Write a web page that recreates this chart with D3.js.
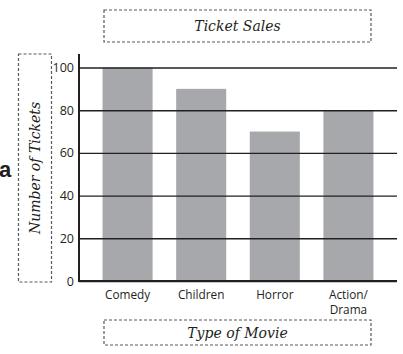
<!DOCTYPE html>
<html>
<head>
<meta charset="utf-8">
<script src="https://cdn.jsdelivr.net/npm/d3@7"></script>
<style>
  html, body { margin: 0; padding: 0; background: #fff; }
  svg { display: block; }
</style>
</head>
<body>
<div id="chart"></div>
<script>
// Ticket sales by movie type
const categories = ["Comedy", "Children", "Horror", "Action/\nDrama"];
const tickets = [100, 90, 70, 80];
const yTicks = [0, 20, 40, 60, 80, 100];

const W = 403, H = 354;
const plotLeft = 79, plotRight = 397, plotTop = 54, plotBottom = 281;

const svg = d3.select("#chart").append("svg")
  .attr("width", W).attr("height", H);

const x = d3.scaleBand()
  .domain(categories)
  .range([plotLeft, plotRight])
  .padding(0.32);

const y = d3.scaleLinear()
  .domain([0, 100])
  .range([plotBottom, 67.5]);

// Bars
svg.append("g").selectAll("rect")
  .data(tickets)
  .join("rect")
  .attr("x", (d, i) => x(categories[i]))
  .attr("y", d => y(d))
  .attr("width", x.bandwidth())
  .attr("height", d => y(0) - y(d))
  .attr("fill", "#a7a8ab");

// Horizontal grid lines drawn over the bars
const yAxis = d3.axisLeft(y)
  .tickValues(yTicks)
  .tickSize(-(plotRight - plotLeft))
  .tickPadding(5)
  .tickFormat(d3.format("d"));

const gy = svg.append("g")
  .attr("transform", `translate(${plotLeft},0)`)
  .call(yAxis);
gy.select(".domain").remove();
gy.selectAll(".tick line")
  .attr("stroke", "#231f20")
  .attr("stroke-width", 1.4);
gy.selectAll(".tick text")
  .attr("font-family", "'Open Sans', 'Liberation Sans', sans-serif")
  .attr("font-size", 12.5)
  .attr("fill", "#231f20");

// Vertical axis line
svg.append("line")
  .attr("x1", plotLeft).attr("x2", plotLeft)
  .attr("y1", plotTop).attr("y2", plotBottom + 0.7)
  .attr("stroke", "#231f20")
  .attr("stroke-width", 2);

// Baseline
svg.append("line")
  .attr("x1", plotLeft - 1).attr("x2", plotRight)
  .attr("y1", plotBottom).attr("y2", plotBottom)
  .attr("stroke", "#231f20")
  .attr("stroke-width", 2);

// Category labels (multi-line where needed)
const gx = svg.append("g");
categories.forEach(c => {
  const lines = c.split("\n");
  const t = gx.append("text")
    .attr("x", x(c) + x.bandwidth() / 2)
    .attr("y", 299)
    .attr("text-anchor", "middle")
    .attr("font-family", "'Open Sans', 'Liberation Sans', sans-serif")
    .attr("font-size", 11.8)
    .attr("fill", "#231f20");
  lines.forEach((ln, j) => {
    t.append("tspan")
      .attr("x", x(c) + x.bandwidth() / 2)
      .attr("dy", j === 0 ? 0 : 15)
      .text(ln);
  });
});

// Dashed label boxes
const boxStyle = sel => sel
  .attr("fill", "none")
  .attr("stroke", "#58595b")
  .attr("stroke-width", 1.2)
  .attr("stroke-dasharray", "3,2");

svg.append("rect").call(boxStyle)
  .attr("x", 104).attr("y", 10).attr("width", 267).attr("height", 32);
svg.append("rect").call(boxStyle)
  .attr("x", 104).attr("y", 320).attr("width", 267).attr("height", 25);
svg.append("rect").call(boxStyle)
  .attr("x", 18.5).attr("y", 54).attr("width", 33).attr("height", 228);

const scriptFont = "'DejaVu Serif', 'Liberation Serif', serif";

svg.append("text")
  .attr("x", 237.5).attr("y", 31)
  .attr("text-anchor", "middle")
  .attr("font-family", scriptFont)
  .attr("font-style", "italic")
  .attr("font-size", 14)
  .attr("fill", "#231f20")
  .text("Ticket Sales");

svg.append("text")
  .attr("x", 237.5).attr("y", 338)
  .attr("text-anchor", "middle")
  .attr("font-family", scriptFont)
  .attr("font-style", "italic")
  .attr("font-size", 14)
  .attr("fill", "#231f20")
  .text("Type of Movie");

svg.append("text")
  .attr("transform", "translate(40,168) rotate(-90)")
  .attr("text-anchor", "middle")
  .attr("font-family", scriptFont)
  .attr("font-style", "italic")
  .attr("font-size", 14)
  .attr("fill", "#231f20")
  .text("Number of Tickets");

// Panel letter
svg.append("text")
  .attr("x", -1).attr("y", 177)
  .attr("font-family", "'Liberation Sans', Arial, sans-serif")
  .attr("font-weight", "bold")
  .attr("font-size", 22)
  .attr("fill", "#231f20")
  .text("a");
</script>
</body>
</html>
